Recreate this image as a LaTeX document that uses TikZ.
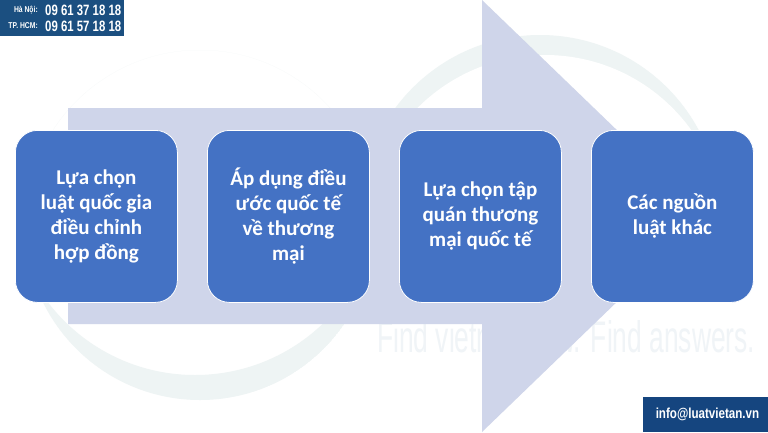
\documentclass[tikz,border=0pt]{standalone}
\usepackage{fontspec}
\setmainfont{Carlito}
\newfontfamily\narrowfont{Liberation Sans}
\definecolor{boxblue}{HTML}{4472C4}
\definecolor{arrowfill}{HTML}{CFD5EA}
\definecolor{wmark}{HTML}{EEF4F4}
\definecolor{wtext}{HTML}{F0F4F7}
\definecolor{phoneblue}{HTML}{1B4F80}
\definecolor{mailblue}{HTML}{15457F}
\tikzset{
  stepbox/.style={draw=white, line width=0.8pt, fill=boxblue, rounded corners=22pt,
    minimum width=162pt, minimum height=172pt, anchor=north west, inner sep=0pt,
    text=white, align=center, font=\bfseries\fontsize{21}{25}\selectfont},
  infobox/.style={fill=#1, draw=none, anchor=north west, inner sep=0pt},
  infotext/.style={text=white, inner sep=0pt, font=\narrowfont\bfseries}
}
\begin{document}
\begin{tikzpicture}[x=1pt,y=-1pt]
\useasboundingbox (0,0) rectangle (768,432);
\fill[white] (0,0) rectangle (768,432);
% watermark crescents
\path[fill=wmark] (540,215) circle (180);
\path[fill=white] (545,235) circle (180);
\begin{scope}
\clip (200,225) circle (175);
\fill[wmark, even odd rule] (200,225) circle (175) (195,190) circle (185);
\end{scope}
% watermark text
\node[anchor=south west, inner sep=0pt, text=wtext] (wm) at (377,353)
  {\resizebox{378pt}{32pt}{\narrowfont Find vietnam law. Find answers.}};
% big arrow
\fill[arrowfill] (68,108) -- (482,108) -- (482,0) -- (706,216) -- (482,432) -- (482,324) -- (68,324) -- cycle;
% boxes
\node[stepbox] (b1) at (15,130) {Lựa chọn\\luật quốc gia\\điều chỉnh\\hợp đồng};
\node[stepbox] (b2) at (207,130) {Áp dụng điều\\ước quốc tế\\về thương\\mại};
\node[stepbox] (b3) at (399,130) {Lựa chọn tập\\quán thương\\mại quốc tế};
\node[stepbox] (b4) at (591,130) {Các nguồn\\luật khác};
% phone box
\node[infobox=phoneblue, minimum width=124pt, minimum height=36pt] (phone) at (0,0) {};
\node[infotext, anchor=east, font=\narrowfont\bfseries\fontsize{8.5}{8.5}\selectfont] (hnl) at (38,10) {\scalebox{0.8}[1]{Hà Nội:}};
\node[infotext, anchor=east, font=\narrowfont\bfseries\fontsize{8.5}{8.5}\selectfont] (hcml) at (38,26) {\scalebox{0.8}[1]{TP. HCM:}};
\node[infotext, anchor=west, font=\narrowfont\bfseries\fontsize{15}{15}\selectfont] (hnn) at (45,10) {\scalebox{0.76}[1]{09 61 37 18 18}};
\node[infotext, anchor=west, font=\narrowfont\bfseries\fontsize{15}{15}\selectfont] (hcmn) at (45,26) {\scalebox{0.76}[1]{09 61 57 18 18}};
% mail box
\node[infobox=mailblue, minimum width=125pt, minimum height=35pt] (mail) at (643,397) {};
\node[infotext, font=\narrowfont\bfseries\fontsize{14.5}{14.5}\selectfont] (mailt) at (707.5,414) {\scalebox{0.8}[1]{info@luatvietan.vn}};
\end{tikzpicture}
\end{document}
